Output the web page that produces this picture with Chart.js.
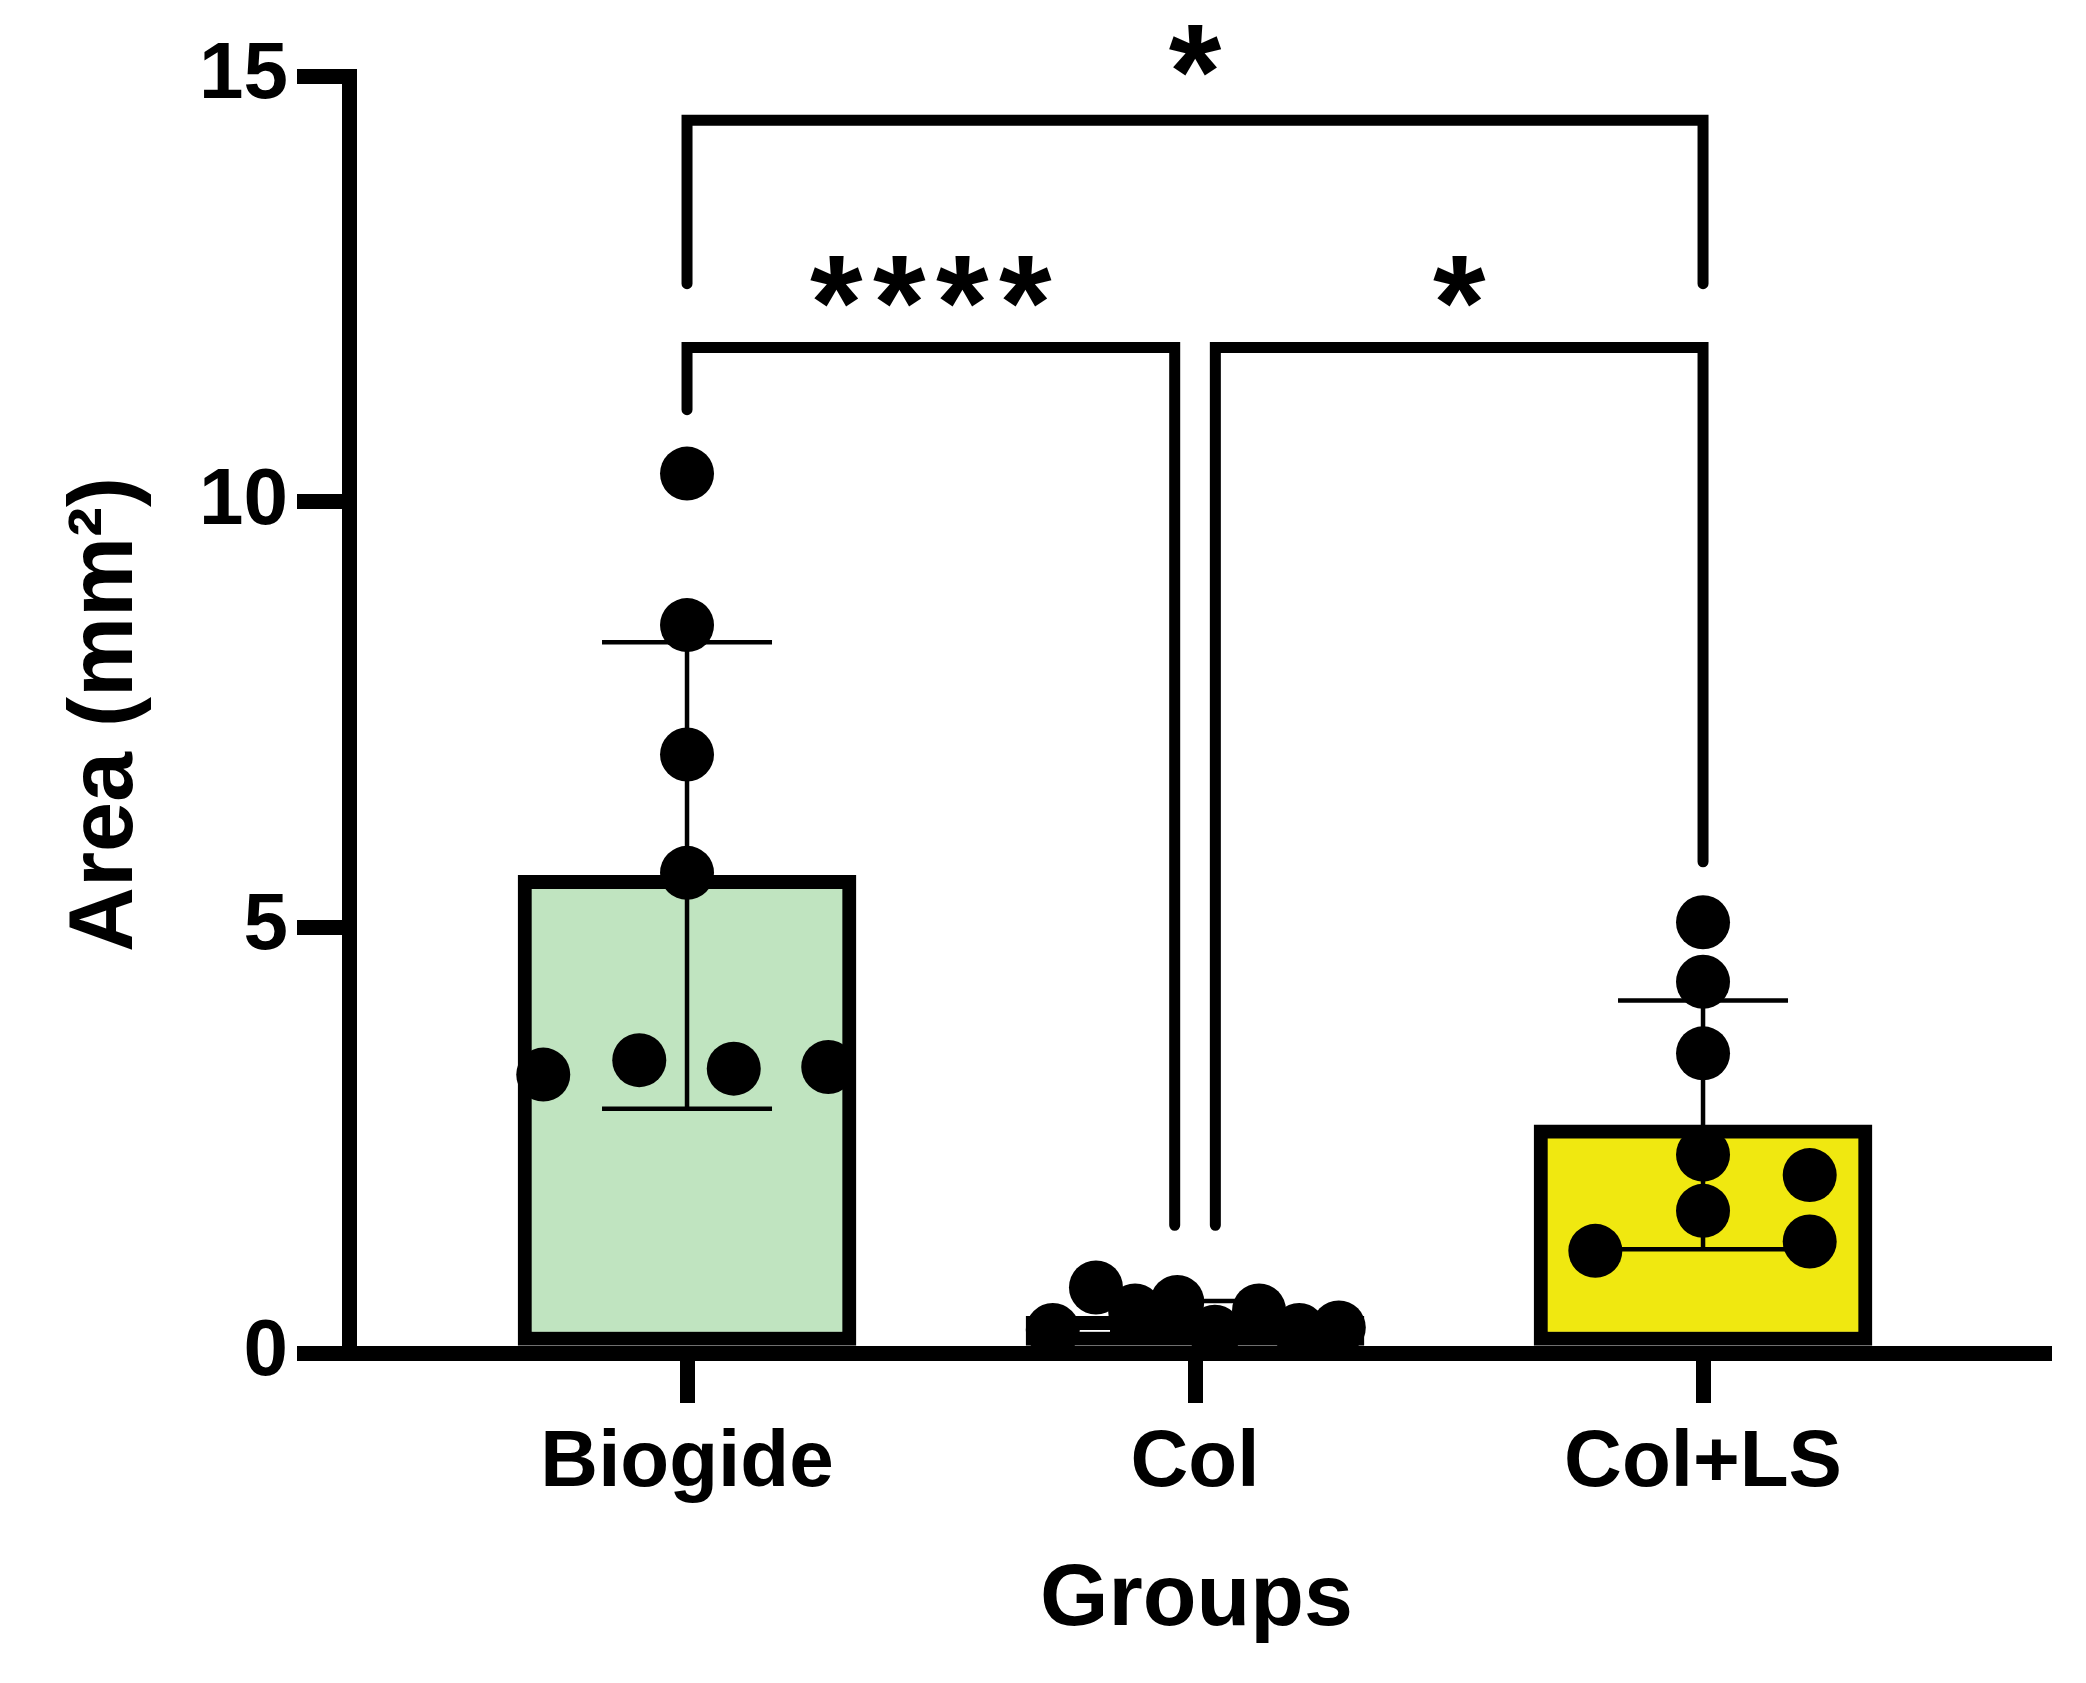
<!DOCTYPE html>
<html><head><meta charset="utf-8">
<script src="https://cdn.jsdelivr.net/npm/chart.js@4/dist/chart.umd.min.js"></script>
<style>html,body{margin:0;padding:0;background:#fff;}#wrap{width:2086px;height:1683px;position:relative;}canvas{display:block;}</style>
</head><body><div id="wrap"><canvas id="c" width="2086" height="1683" style="width:2086px;height:1683px"></canvas></div>
<script>
// ---- data ----
const categories = ['Biogide', 'Col', 'Col+LS'];
const biogideValues = [10.33, 8.55, 7.03, 5.64, 3.27, 3.44, 3.34, 3.36];
const biogideJitter = [0, 0, 0, 0, -0.283, -0.094, 0.092, 0.278];
const colValues = [0.27, 0.77, 0.50, 0.60, 0.25, 0.50, 0.27, 0.30];
const colJitter = [-0.28, -0.195, -0.118, -0.035, 0.039, 0.126, 0.205, 0.283];
const colLsValues = [5.06, 4.36, 3.52, 2.33, 1.67, 1.20, 2.09, 1.31];
const colLsJitter = [0, 0, 0, 0, 0, -0.212, 0.21, 0.21];
const means = [5.61, 0.43, 2.68];
const sds = [2.74, 0.18, 1.46];
const yTicks = [0, 5, 10, 15];
const barColors = ['#C0E4C0', '#FFFFFF', '#F0E810'];
// significance brackets (x in category units, y in data units)
const bracketFrom = [0, 0, 1.04];
const bracketTo = [2, 0.96, 2];
const bracketTop = [14.48, 11.81, 11.81];
const bracketLeftEnd = [12.56, 11.08, 1.5];
const bracketRightEnd = [12.56, 1.5, 5.77];
const bracketLabels = ['*', '****', '*'];
const bracketLabelY = [15.39, 12.68, 12.68];

const FONT = "'Liberation Sans', Arial, Helvetica, sans-serif";
const groupValues = [biogideValues, colValues, colLsValues];
const groupJitter = [biogideJitter, colJitter, colLsJitter];

const errorBarPlugin = {
  id: 'errorBars',
  afterDatasetDraw(chart, args) {
    if (args.index !== 0) return;
    const ctx = chart.ctx, xs = chart.scales.x, ys = chart.scales.y;
    ctx.save();
    ctx.strokeStyle = '#000';
    ctx.lineWidth = 4.5;
    ctx.lineCap = 'butt';
    means.forEach((m, i) => {
      const x = xs.getPixelForValue(i);
      const yT = ys.getPixelForValue(m + sds[i]);
      const yB = ys.getPixelForValue(m - sds[i]);
      ctx.beginPath();
      ctx.moveTo(x, yT); ctx.lineTo(x, yB);
      ctx.moveTo(x - 85, yT); ctx.lineTo(x + 85, yT);
      ctx.moveTo(x - 85, yB); ctx.lineTo(x + 85, yB);
      ctx.stroke();
    });
    ctx.restore();
  }
};

const bracketPlugin = {
  id: 'brackets',
  afterDraw(chart) {
    const ctx = chart.ctx, xs = chart.scales.x, ys = chart.scales.y;
    ctx.save();
    ctx.strokeStyle = '#000';
    ctx.lineWidth = 11;
    ctx.lineCap = 'round';
    ctx.lineJoin = 'miter';
    bracketLabels.forEach((lab, i) => {
      const x1 = xs.getPixelForValue(bracketFrom[i]);
      const x2 = xs.getPixelForValue(bracketTo[i]);
      const yt = ys.getPixelForValue(bracketTop[i]);
      ctx.beginPath();
      ctx.moveTo(x1, ys.getPixelForValue(bracketLeftEnd[i]));
      ctx.lineTo(x1, yt);
      ctx.lineTo(x2, yt);
      ctx.lineTo(x2, ys.getPixelForValue(bracketRightEnd[i]));
      ctx.stroke();
      const size = 135;
      ctx.fillStyle = '#000';
      ctx.font = 'bold ' + size + 'px ' + FONT;
      ctx.textAlign = 'center';
      ctx.textBaseline = 'alphabetic';
      const cx = (x1 + x2) / 2;
      const cy = ys.getPixelForValue(bracketLabelY[i]) + 0.56 * size;
      const n = lab.length, gap = 63;
      for (let k = 0; k < n; k++) {
        ctx.fillText(lab[k], cx + (k - (n - 1) / 2) * gap, cy);
      }
    });
    ctx.restore();
  }
};

const scatterSets = groupValues.map((vals, g) => ({
  type: 'scatter',
  data: vals.map((v, k) => ({x: g + groupJitter[g][k], y: v})),
  pointRadius: 27,
  pointHoverRadius: 27,
  backgroundColor: '#000',
  borderColor: '#000',
  borderWidth: 0,
  order: 0,
  clip: false
}));

new Chart(document.getElementById('c'), {
  type: 'bar',
  data: {
    datasets: [{
      type: 'bar',
      data: means.map((m, i) => ({x: i, y: m})),
      backgroundColor: barColors,
      borderColor: '#000',
      borderWidth: 14,
      borderSkipped: false,
      barThickness: 338,
      order: 1
    }].concat(scatterSets)
  },
  options: {
    responsive: false,
    maintainAspectRatio: false,
    animation: false,
    events: [],
    devicePixelRatio: 1,
    layout: {padding: {top: 76, right: 42, bottom: 0, left: 0}},
    plugins: {legend: {display: false}, tooltip: {enabled: false}},
    scales: {
      x: {
        type: 'linear',
        min: -0.6654,
        max: 2.6712,
        offset: false,
        afterBuildTicks(scale) { scale.ticks = categories.map((c, i) => ({value: i})); },
        afterFit(scale) { scale.height = 330; },
        grid: {display: true, drawOnChartArea: false, offset: false, lineWidth: 15, tickWidth: 15, tickLength: 50, tickColor: '#000', color: '#000'},
        border: {display: true, width: 15, color: '#000'},
        ticks: {
          autoSkip: false, maxRotation: 0, padding: 13, color: '#000',
          font: {family: FONT, size: 80, weight: 'bold'},
          callback: (v) => categories[v] !== undefined ? categories[v] : ''
        },
        title: {display: true, text: 'Groups', color: '#000', font: {family: FONT, size: 88, weight: 'bold'}, padding: {top: 0, bottom: 29}}
      },
      y: {
        type: 'linear',
        min: 0,
        max: 15,
        afterBuildTicks(scale) { scale.ticks = yTicks.map(v => ({value: v})); },
        afterFit(scale) { scale.width = 349; },
        grid: {display: true, drawOnChartArea: false, lineWidth: 15, tickWidth: 15, tickLength: 52, tickColor: '#000', color: '#000'},
        border: {display: true, width: 15, color: '#000'},
        ticks: {padding: 9, color: '#000', font: {family: FONT, size: 80, weight: 'bold'}},
        title: {display: true, text: 'Area (mm²)', color: '#000', font: {family: FONT, size: 90, weight: 'bold'}, padding: {top: 53, bottom: 0}}
      }
    }
  },
  plugins: [errorBarPlugin, bracketPlugin]
});
</script></body></html>
